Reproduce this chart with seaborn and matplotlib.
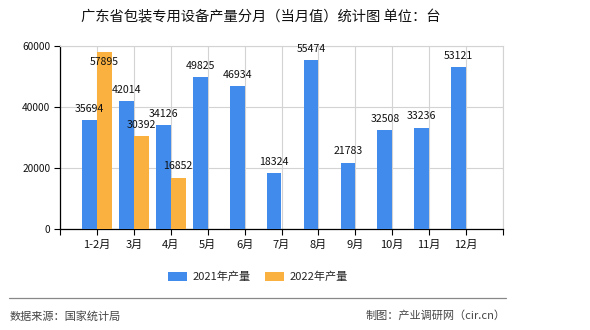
import numpy as np
import pandas as pd
import matplotlib
matplotlib.use("Agg")
import matplotlib.pyplot as plt
import seaborn as sns
from matplotlib.patches import Patch

# ---- data ----
months = ["1-2月", "3月", "4月", "5月", "6月", "7月", "8月", "9月", "10月", "11月", "12月"]
prod_2021 = [35694, 42014, 34126, 49825, 46934, 18324, 55474, 21783, 32508, 33236, 53121]
prod_2022 = [57895, 30392, 16852, None, None, None, None, None, None, None, None]
series_names = ["2021年产量", "2022年产量"]
y_ticks = [0, 20000, 40000, 60000]

title = "广东省包装专用设备产量分月（当月值）统计图 单位：台"
source_left = "数据来源：国家统计局"
source_right = "制图：产业调研网（cir.cn）"

# ---- styling ----
sns.set_theme(style="white")
plt.rcParams["font.family"] = ["Noto Sans CJK SC", "DejaVu Sans"]
plt.rcParams["axes.unicode_minus"] = False

blue = "#418bec"
orange = "#fbb13f"

rows = []
for m, v in zip(months, prod_2021):
    rows.append({"month": m, "series": series_names[0], "value": v})
for m, v in zip(months, prod_2022):
    rows.append({"month": m, "series": series_names[1], "value": np.nan if v is None else v})
df = pd.DataFrame(rows)

fig = plt.figure(figsize=(5.9, 3.3), dpi=100)
ax = fig.add_axes([60 / 590, 1 - 229 / 330, 443 / 590, 183 / 330])

sns.barplot(data=df.dropna(), x="month", y="value", hue="series", order=months,
            hue_order=series_names, palette=[blue, orange], width=0.8,
            saturation=1, ax=ax, legend=False, errorbar=None, zorder=3,
            linewidth=0, edgecolor="none")

ax.set_ylim(0, 60000)
ax.set_xlim(-1, len(months))
ax.set_yticks(y_ticks)
ax.set_yticklabels([str(t) for t in y_ticks], fontsize=7.3, color="#111111")
ax.set_xticks(range(-1, len(months) + 1))
ax.set_xticklabels([""] + months + [""], fontsize=8, color="#111111")
ax.set_xlabel("")
ax.set_ylabel("")

ax.tick_params(axis="both", which="both", direction="out", length=4, width=0.8,
               color="black", pad=3, bottom=True, left=True)
ax.tick_params(axis="x", pad=4)

ax.grid(True, axis="both", color="#d3d3d3", linewidth=0.8, zorder=0)
ax.set_axisbelow(True)
for side in ["top", "right"]:
    ax.spines[side].set_visible(True)
    ax.spines[side].set_color("#d3d3d3")
    ax.spines[side].set_linewidth(0.8)
for side in ["left", "bottom"]:
    ax.spines[side].set_color("black")
    ax.spines[side].set_linewidth(0.9)

# value labels
top = ax.get_ylim()[1]
for cont in ax.containers:
    for p in cont.patches:
        h = p.get_height()
        if np.isnan(h) or h <= 0:
            continue
        cx = p.get_x() + p.get_width() / 2
        if h > top * 0.93:
            ax.annotate(f"{int(round(h))}", (cx, h), xytext=(0, -3), textcoords="offset points",
                        ha="center", va="top", fontsize=7.6, color="#111111", zorder=5)
        else:
            ax.annotate(f"{int(round(h))}", (cx, h), xytext=(0, 4.5), textcoords="offset points",
                        ha="center", va="bottom", fontsize=7.6, color="#111111", zorder=5)

# legend
handles = [Patch(facecolor=blue, edgecolor="none"), Patch(facecolor=orange, edgecolor="none")]
fig.legend(handles, series_names, loc="center", bbox_to_anchor=(258 / 590, 1 - 277 / 330),
           ncol=2, frameon=False, fontsize=8, handlelength=1.7, handleheight=0.8,
           handletextpad=0.45, columnspacing=1.35)

# title
fig.text(261 / 590, 1 - 17 / 330, title, ha="center", va="center", fontsize=10.3,
         color="#111111", fontweight="medium")

# footer
fig.add_artist(plt.Line2D([9 / 590, 506 / 590], [1 - 298 / 330, 1 - 298 / 330],
                          color="#888888", linewidth=0.9, transform=fig.transFigure))
fig.text(10 / 590, 1 - 316 / 330, source_left, ha="left", va="center", fontsize=8, color="#444444")
fig.text(506 / 590, 1 - 316 / 330, source_right, ha="right", va="center", fontsize=8, color="#444444")

fig.savefig("out.png", dpi=100)
